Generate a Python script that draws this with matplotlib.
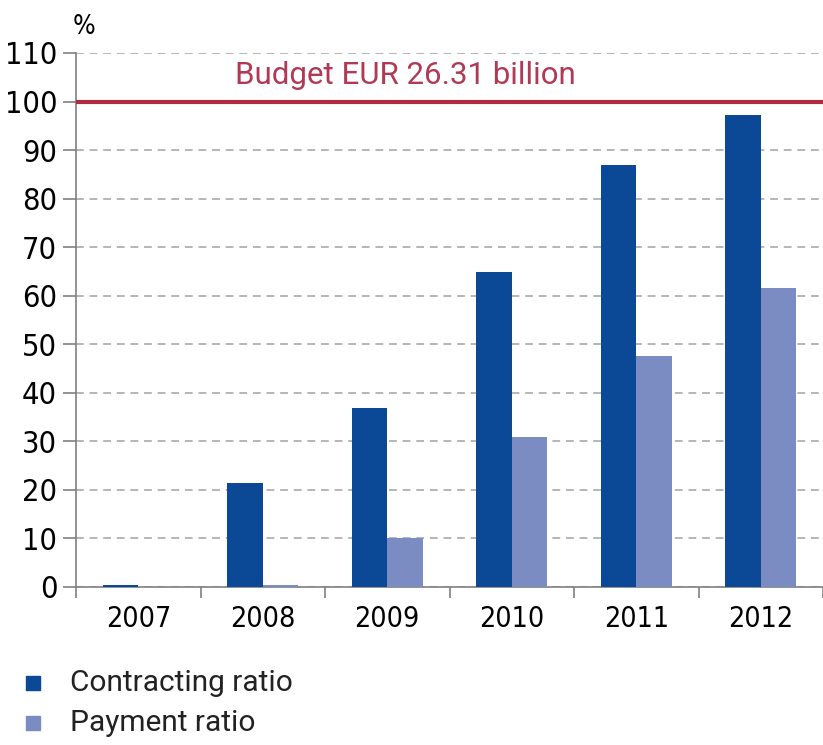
import matplotlib
matplotlib.use("Agg")
import matplotlib.pyplot as plt
import numpy as np

years = ["2007", "2008", "2009", "2010", "2011", "2012"]
contracting = [0.5, 21.4, 36.9, 64.9, 86.9, 97.2]
payment = [0.0, 0.4, 10.1, 30.9, 47.6, 61.6]
budget = 100
budget_label = "Budget EUR 26.31 billion"
yticks = list(range(0, 111, 10))

narrow = ["DejaVu Sans"]
plain = ["Roboto", "DejaVu Sans"]

c_dark = "#0b4895"
c_light = "#7b8cc2"
c_red = "#b02a42"

fig = plt.figure(figsize=(8.23, 7.45), dpi=100)
ax = fig.add_axes([76/823, 158/745, 1 - 76/823, (587-53)/745])

x = np.arange(len(years))
w = 0.285
ax.bar(x - w/2, contracting, w, color=c_dark, zorder=3)
ax.bar(x + w/2, payment, w, color=c_light, zorder=3)

ax.set_xlim(-0.5, len(years) - 0.5)
ax.set_ylim(0, 110)
ax.set_yticks(yticks)
ax.set_yticklabels([str(t) for t in yticks], fontfamily=narrow, fontstretch="condensed", fontsize=22)
ax.yaxis.grid(True, linestyle=(0, (4, 3)), color="#b5b5b5", linewidth=1.4, zorder=1)
ax.set_axisbelow(True)

ax.set_xticks(x)
ax.set_xticklabels(years, fontfamily=narrow, fontstretch="condensed", fontsize=20.5)
ax.set_xticks(np.arange(-0.5, len(years) - 0.4, 1), minor=True)
ax.tick_params(axis="x", which="major", length=0, pad=13)
ax.tick_params(axis="x", which="minor", length=8, width=1.2, color="#808080", direction="out")
ax.tick_params(axis="y", length=9.5, width=1.2, color="#808080", direction="out", pad=4)

for s in ["top", "right"]:
    ax.spines[s].set_visible(False)
for s in ["left", "bottom"]:
    ax.spines[s].set_color("#808080")
    ax.spines[s].set_linewidth(1.2)

ax.axhline(budget, color=c_red, linewidth=3, zorder=4)
ax.text(0.78, 105.3, budget_label, color="#b03a55", fontsize=22.5,
        fontfamily=plain, va="center", ha="left")

fig.text(73/823, 1 - 27/745, "%", fontsize=19, fontfamily=narrow, fontstretch="condensed",
         va="center", ha="left")

# legend
fig.patches.append(plt.Rectangle((26/823, 1 - 690/745), 14/823, 14/745,
                                 transform=fig.transFigure, color=c_dark))
fig.patches.append(plt.Rectangle((26/823, 1 - 730/745), 14/823, 14/745,
                                 transform=fig.transFigure, color=c_light))
fig.text(70/823, 1 - 683/745, "Contracting ratio", fontsize=21.5, fontfamily=plain,
         va="center", ha="left", color="#222222")
fig.text(70/823, 1 - 723/745, "Payment ratio", fontsize=21.5, fontfamily=plain,
         va="center", ha="left", color="#222222")

fig.savefig("out.png", dpi=100)
